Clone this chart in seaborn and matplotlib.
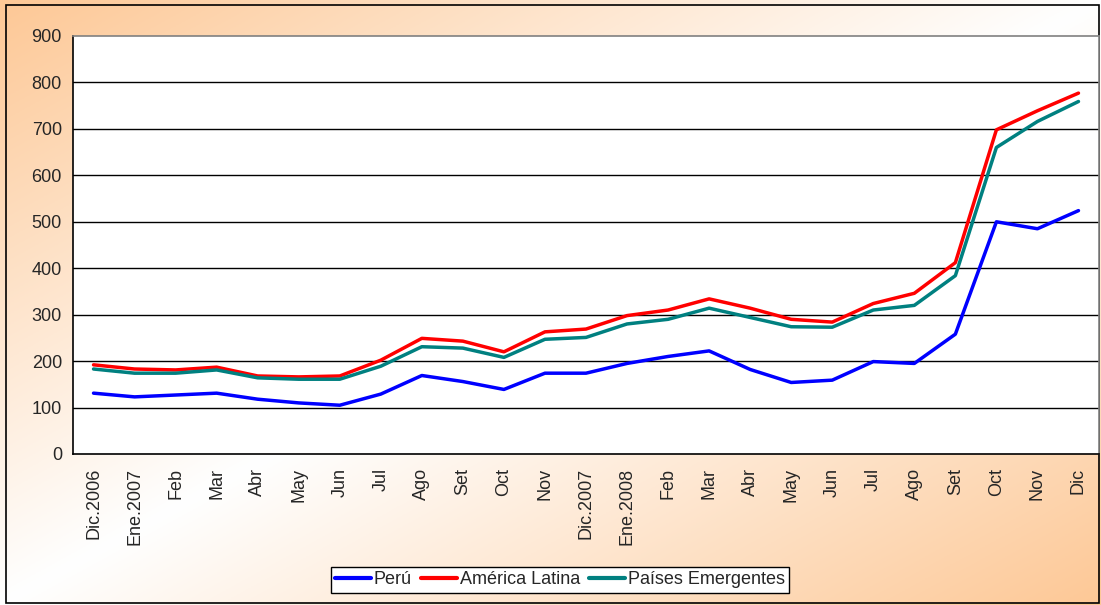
import numpy as np
import pandas as pd
import matplotlib
matplotlib.use("Agg")
import matplotlib.pyplot as plt
import seaborn as sns
from matplotlib.patches import Rectangle

categories = ["Dic.2006", "Ene.2007", "Feb", "Mar", "Abr", "May", "Jun", "Jul", "Ago",
              "Set", "Oct", "Nov", "Dic.2007", "Ene.2008", "Feb", "Mar", "Abr", "May",
              "Jun", "Jul", "Ago", "Set", "Oct", "Nov", "Dic"]
peru = [131, 123, 127, 131, 118, 110, 105, 129, 169, 156, 139, 174, 174, 195, 210, 222,
        182, 154, 159, 199, 195, 258, 500, 485, 524]
america_latina = [192, 183, 181, 187, 168, 166, 168, 202, 249, 243, 220, 263, 269, 298, 310,
                  334, 314, 290, 284, 324, 346, 412, 698, 739, 777]
paises_emergentes = [183, 174, 174, 181, 164, 161, 161, 189, 231, 228, 208, 247, 251, 280,
                     290, 314, 294, 274, 273, 310, 320, 384, 660, 716, 759]
series_names = ["Perú", "América Latina", "Países Emergentes"]
series_colors = ["#0000FF", "#FF0000", "#008080"]
y_ticks = [0, 100, 200, 300, 400, 500, 600, 700, 800, 900]

sns.set_style("white")
plt.rcParams["font.family"] = ["Liberation Sans", "DejaVu Sans"]

rows = []
for name, vals in zip(series_names, [peru, america_latina, paises_emergentes]):
    for i, v in enumerate(vals):
        rows.append({"pos": i, "valor": v, "serie": name})
df = pd.DataFrame(rows)

W, H = 1101, 605
fig = plt.figure(figsize=(W / 100, H / 100), dpi=100)

# background gradient
bg = fig.add_axes([0, 0, 1, 1], zorder=-10)
xx, yy = np.meshgrid(np.linspace(0, 1, 400), np.linspace(0, 1, 220))
t = (xx + yy) / 2.0
w = np.abs(t - 0.5) * 2.0
w = np.clip(w, 0, 1) ** 1.0
orange = np.array([253, 200, 150]) / 255.0
white = np.array([1.0, 1.0, 1.0])
img = white[None, None, :] * (1 - w[..., None]) + orange[None, None, :] * w[..., None]
bg.imshow(img, aspect="auto", extent=[0, 1, 1, 0], origin="upper")
bg.set_axis_off()
bg.set_xlim(0, 1)
bg.set_ylim(1, 0)
fig.patches.append(Rectangle((6 / W, 1 - 603 / H), (1099 - 6) / W, (603 - 5) / H,
                             transform=fig.transFigure, fill=False, edgecolor="black",
                             linewidth=1.2, zorder=-5))

ax = fig.add_axes([73 / W, 1 - 454 / H, (1099 - 73) / W, (454 - 36) / H])
ax.set_facecolor("white")
sns.lineplot(data=df, x="pos", y="valor", hue="serie", palette=series_colors,
             hue_order=series_names, linewidth=2.5, sort=False, ax=ax, legend=False,
             zorder=3)

ax.set_xlim(-0.5, len(categories) - 0.5)
ax.set_ylim(0, 900)
ax.set_yticks(y_ticks)
ax.set_yticklabels([str(v) for v in y_ticks], fontsize=13)
ax.set_xticks(range(len(categories)))
ax.set_xticklabels(categories, rotation=90, fontsize=13)
ax.set_xticks(np.arange(-0.5, len(categories), 1.0), minor=True)
ax.tick_params(axis="x", which="major", length=0, pad=10)
ax.tick_params(axis="x", which="minor", length=5, width=1, color="black", direction="out")
ax.tick_params(axis="y", length=5, width=1, color="black", direction="out", pad=3)
ax.set_xlabel("")
ax.set_ylabel("")
for v in y_ticks[1:-1]:
    ax.axhline(v, color="black", linewidth=1.0, zorder=1)
for s in ["left", "bottom"]:
    ax.spines[s].set_color("black")
    ax.spines[s].set_linewidth(1.2)
for s in ["top", "right"]:
    ax.spines[s].set_color("#808080")
    ax.spines[s].set_linewidth(1.2)

handles = [plt.Line2D([], [], color=c, linewidth=3) for c in series_colors]
leg = fig.legend(handles, series_names, loc="center", bbox_to_anchor=(560 / W, 1 - 580 / H),
                 ncol=3, fontsize=13, frameon=True, fancybox=False, handlelength=2.0,
                 handletextpad=0.15, columnspacing=0.5, borderpad=0.25, borderaxespad=0)
leg.get_frame().set_edgecolor("black")
leg.get_frame().set_facecolor("white")
leg.get_frame().set_alpha(1)
leg.get_frame().set_linewidth(1.0)

fig.savefig("out.png", dpi=100)
